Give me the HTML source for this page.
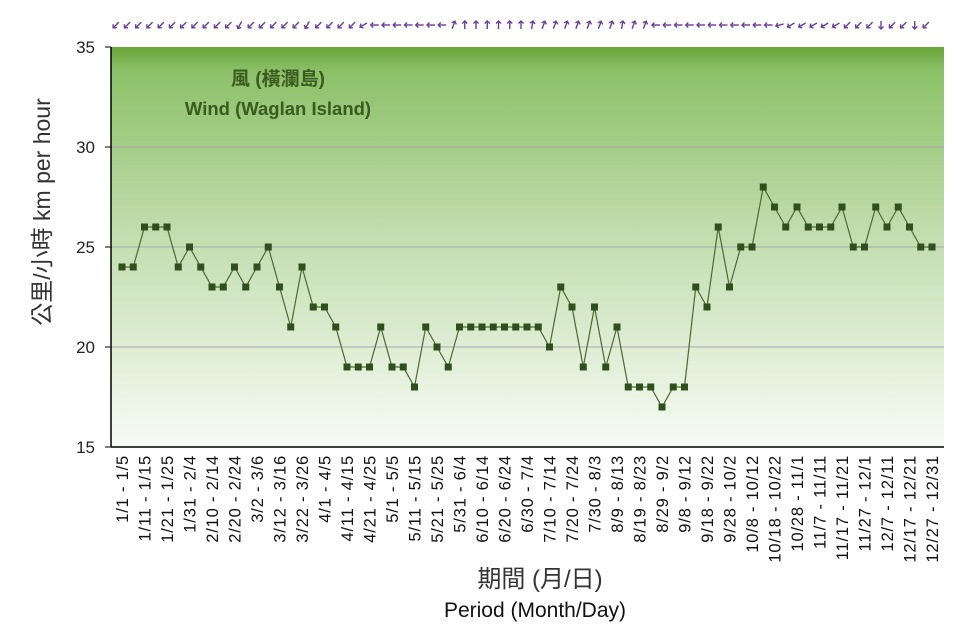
<!DOCTYPE html>
<html><head><meta charset="utf-8"><style>
body{margin:0;background:#fff;width:977px;height:627px;overflow:hidden;font-family:"Liberation Sans","Noto Sans CJK TC",sans-serif}
</style></head><body>
<svg id="chart" width="977" height="627" xmlns="http://www.w3.org/2000/svg">
<defs><linearGradient id="bg" x1="0" y1="0" x2="0" y2="1">
<stop offset="0" stop-color="#68a53a"/><stop offset="0.06" stop-color="#8cc168"/><stop offset="0.45" stop-color="#c0dcac"/><stop offset="1" stop-color="#f7fbf5"/></linearGradient></defs>
<rect x="111" y="47" width="833" height="400" fill="url(#bg)"/>
<g id="grid"></g><g id="arrows"></g><g id="series"></g><g id="axes"></g>
<text x="278" y="85" text-anchor="middle" font-size="19" font-weight="bold" fill="#3b5a1f">風 (橫瀾島)</text>
<text x="278" y="115" text-anchor="middle" font-size="18.5" font-weight="bold" fill="#3b5a1f">Wind (Waglan Island)</text>
<text transform="translate(50,212) rotate(-90)" text-anchor="middle" font-size="23" fill="#333">公里/小時 km per hour</text>
<text x="540" y="587" text-anchor="middle" font-size="24" fill="#333">期間 (月/日)</text>
<text x="535" y="617" text-anchor="middle" font-size="21" fill="#111">Period (Month/Day)</text>
</svg>
<script>
const values=[24,24,26,26,26,24,25,24,23,23,24,23,24,25,23,21,24,22,22,21,19,19,19,21,19,19,18,21,20,19,21,21,21,21,21,21,21,21,20,23,22,19,22,19,21,18,18,18,17,18,18,23,22,26,23,25,25,28,27,26,27,26,26,26,27,25,25,27,26,27,26,25,25];
const windDir=[45,45,45,45,45,45,45,45,45,45,45,30,45,45,45,45,45,30,45,45,45,45,60,90,90,90,90,90,90,90,200,180,180,180,180,180,180,190,200,200,200,200,200,200,200,190,200,200,90,90,90,90,90,90,90,90,90,90,90,75,60,60,60,60,60,45,45,45,0,45,45,0,45];
const xLabels=["1/1 - 1/5","1/11 - 1/15","1/21 - 1/25","1/31 - 2/4","2/10 - 2/14","2/20 - 2/24","3/2 - 3/6","3/12 - 3/16","3/22 - 3/26","4/1 - 4/5","4/11 - 4/15","4/21 - 4/25","5/1 - 5/5","5/11 - 5/15","5/21 - 5/25","5/31 - 6/4","6/10 - 6/14","6/20 - 6/24","6/30 - 7/4","7/10 - 7/14","7/20 - 7/24","7/30 - 8/3","8/9 - 8/13","8/19 - 8/23","8/29 - 9/2","9/8 - 9/12","9/18 - 9/22","9/28 - 10/2","10/8 - 10/12","10/18 - 10/22","10/28 - 11/1","11/7 - 11/11","11/17 - 11/21","11/27 - 12/1","12/7 - 12/11","12/17 - 12/21","12/27 - 12/31"];
const yTicks=[15,20,25,30,35];
const NS="http://www.w3.org/2000/svg";
const x=i=>122+i*(810/(values.length-1));
const y=v=>447-(v-15)*20;
function mk(t,a,p){const e=document.createElementNS(NS,t);for(const k in a)e.setAttribute(k,a[k]);p.appendChild(e);return e;}
const grid=document.getElementById('grid'),axes=document.getElementById('axes'),ser=document.getElementById('series'),arr=document.getElementById('arrows');
yTicks.forEach(t=>{
 if(t>15&&t<35){const g=mk('line',{x1:111,x2:944,y1:y(t),y2:y(t),stroke:'#a8a8a8','stroke-width':1},grid);
 
 }
 const tk=mk('line',{x1:105,x2:111,y1:y(t),y2:y(t),stroke:'#000'},axes);
 
 
 const tl=mk('text',{x:95,y:y(t)+6,'text-anchor':'end','font-size':17,fill:'#222'},axes);tl.textContent=t;
 
 
});
const ya=mk('line',{x1:111,x2:111,y1:47,y2:447,stroke:'#000','stroke-width':1.5},axes);


const xa=mk('line',{x1:111,x2:944,y1:447,y2:447,stroke:'#000','stroke-width':1.5},axes);


xLabels.forEach((l,j)=>{const i=j*2;
 const t=mk('text',{transform:`translate(${x(i)+6},455) rotate(-90)`,'text-anchor':'end','font-size':16.5,'letter-spacing':'0.8',fill:'#111'},axes);t.textContent=l;
 
 
});
const pl=mk('polyline',{points:values.map((v,i)=>x(i)+','+y(v)).join(' '),fill:'none',stroke:'#4a6a30','stroke-width':1.2},ser);


values.forEach((v,i)=>{const r=mk('rect',{x:x(i)-3.5,y:y(v)-3.5,width:7,height:7,fill:'#2f4f1c'},ser);
 
 });
windDir.forEach((d,i)=>{const g=mk('g',{transform:`translate(${x(i)-6},25) rotate(${d})`,stroke:'#6a3d9a','stroke-width':1.4,fill:'none'},arr);
 
 
 mk('line',{x1:0,y1:-4,x2:0,y2:4},g);mk('polyline',{points:'-2.5,1.5 0,4 2.5,1.5'},g);});
</script>
</body></html>
